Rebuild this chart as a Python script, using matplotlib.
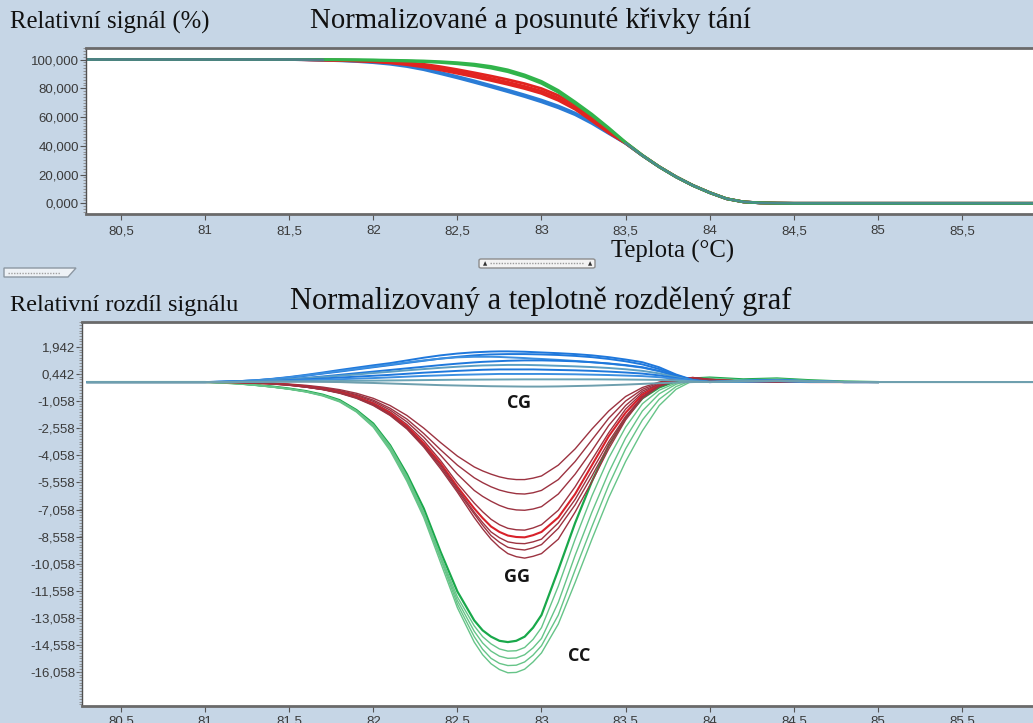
import matplotlib
matplotlib.use("Agg")
import matplotlib.pyplot as plt
from matplotlib.patches import FancyBboxPatch, Polygon
from matplotlib.ticker import MultipleLocator

# ---- data ----
# upper panel: normalised melt curves (%)
top_t = [80.3, 81.5, 81.6, 81.7, 81.8, 81.9, 82.0, 82.1, 82.2, 82.3, 82.4,
         82.5, 82.6, 82.7, 82.8, 82.9, 83.0, 83.1, 83.2, 83.3, 83.4, 83.5,
         83.6, 83.7, 83.8, 83.9, 84.0, 84.1, 84.2, 84.3, 84.4, 84.5, 86.0]
top_green = [
    [100, 100, 100, 100, 99.9, 99.8, 99.7, 99.5, 99.3, 99.0, 98.5, 97.8, 96.8, 95.2, 92.8, 89.3, 84.8,
     78.5, 70.5, 62.0, 52.5, 42.5, 33.5, 25.5, 18.5, 12.5, 7.5, 3.2, 1.0, 0.3, 0.1, 0, 0],
    [100, 100, 100, 99.9, 99.8, 99.7, 99.5, 99.2, 98.9, 98.5, 97.9, 97.0, 95.8, 94.0, 91.5, 88.0, 83.4,
     77.2, 69.4, 61.0, 51.8, 42.0, 33.2, 25.3, 18.4, 12.4, 7.4, 3.2, 1.0, 0.3, 0.1, 0, 0],
]
top_red = [
    [100, 100, 99.9, 99.8, 99.7, 99.5, 99.2, 98.7, 97.9, 96.7, 95.0, 93.0, 90.8, 88.5, 86.0, 83.2, 79.8,
     75.0, 68.5, 60.0, 51.0, 42.3, 33.4, 25.5, 18.5, 12.5, 7.5, 3.2, 1.0, 0.3, 0.1, 0, 0],
    [100, 100, 99.9, 99.7, 99.5, 99.2, 98.8, 98.1, 97.1, 95.7, 93.8, 91.6, 89.3, 86.8, 84.2, 81.3, 78.0,
     73.2, 66.8, 58.5, 49.8, 41.9, 33.3, 25.4, 18.5, 12.5, 7.5, 3.2, 1.0, 0.3, 0.1, 0, 0],
    [100, 100, 99.8, 99.6, 99.3, 98.9, 98.4, 97.6, 96.4, 94.8, 92.7, 90.4, 88.0, 85.4, 82.7, 79.8, 76.4,
     71.6, 65.4, 57.3, 49.0, 41.7, 33.2, 25.4, 18.4, 12.4, 7.4, 3.2, 1.0, 0.3, 0.1, 0, 0],
]
top_blue = [
    [100, 100, 99.9, 99.7, 99.4, 99.0, 98.3, 97.3, 95.8, 93.7, 91.0, 88.2, 85.2, 82.0, 78.8, 75.4, 71.8,
     67.7, 62.8, 56.5, 49.2, 41.8, 33.2, 25.4, 18.4, 12.4, 7.4, 3.2, 1.0, 0.3, 0.1, 0, 0],
    [100, 100, 99.8, 99.5, 99.1, 98.6, 97.8, 96.7, 95.1, 92.9, 90.1, 87.2, 84.1, 80.9, 77.6, 74.2, 70.5,
     66.4, 61.6, 55.5, 48.5, 41.6, 33.1, 25.3, 18.3, 12.3, 7.3, 3.1, 1.0, 0.3, 0.1, 0, 0],
]

# lower panel: difference plot
diff_t = [80.3, 81.0, 81.1, 81.2, 81.3, 81.4, 81.5, 81.6, 81.7, 81.8, 81.9, 82.0, 82.1,
          82.2, 82.3, 82.4, 82.5, 82.6,
          82.65, 82.7, 82.75, 82.8, 82.85, 82.9, 82.95,
          83.0, 83.1, 83.2, 83.3, 83.4, 83.5, 83.6, 83.7, 83.8, 83.9, 84.0, 84.2,
          84.4, 84.6, 84.8, 85.0, 86.0]
cc = [
    [0, 0, -0.03, -0.08, -0.16, -0.25, -0.36, -0.5, -0.7, -1.0, -1.55, -2.3, -3.5, -5.1, -7.0, -9.4, -11.6, -13.2,
     -13.75, -14.1, -14.33, -14.4, -14.33, -14.1, -13.6,
     -12.9, -10.4, -7.8, -5.5, -3.5, -2.0, -0.9, -0.3, 0.05, 0.2, 0.25, 0.15, 0.2, 0.1, 0.03, 0, 0],
    [0, 0, -0.03, -0.08, -0.16, -0.26, -0.37, -0.52, -0.72, -1.03, -1.58, -2.35, -3.55, -5.2, -7.2, -9.6, -11.9, -13.5,
     -14.1, -14.5, -14.78, -14.9, -14.88, -14.7, -14.25,
     -13.6, -11.3, -8.7, -6.3, -4.2, -2.5, -1.2, -0.45, -0.05, 0.18, 0.22, 0.12, 0.18, 0.08, 0.02, 0, 0],
    [0, 0, -0.03, -0.09, -0.17, -0.27, -0.38, -0.53, -0.74, -1.05, -1.6, -2.4, -3.65, -5.3, -7.3, -9.7, -12.1, -13.8,
     -14.45, -14.9, -15.18, -15.3, -15.28, -15.1, -14.72,
     -14.2, -12.2, -9.6, -7.2, -5.0, -3.1, -1.6, -0.65, -0.12, 0.15, 0.2, 0.1, 0.15, 0.07, 0.02, 0, 0],
    [0, 0, -0.03, -0.09, -0.17, -0.27, -0.39, -0.54, -0.75, -1.07, -1.63, -2.45, -3.7, -5.4, -7.4, -9.8, -12.3, -14.1,
     -14.8, -15.3, -15.58, -15.7, -15.68, -15.5, -15.12,
     -14.6, -12.9, -10.4, -8.0, -5.7, -3.7, -2.1, -0.95, -0.25, 0.12, 0.18, 0.08, 0.12, 0.05, 0.02, 0, 0],
    [0, 0, -0.04, -0.1, -0.18, -0.28, -0.4, -0.55, -0.77, -1.1, -1.66, -2.5, -3.8, -5.5, -7.5, -10.0, -12.5, -14.4,
     -15.1, -15.6, -15.92, -16.1, -16.08, -15.9, -15.5,
     -15.0, -13.4, -11.1, -8.7, -6.4, -4.4, -2.7, -1.3, -0.4, 0.08, 0.15, 0.06, 0.1, 0.04, 0.01, 0, 0],
]
gg = [
    [0, 0, 0, -0.01, -0.03, -0.06, -0.11, -0.18, -0.28, -0.42, -0.62, -0.9, -1.3, -1.85, -2.55, -3.35, -4.1, -4.7,
     -4.92, -5.1, -5.25, -5.35, -5.4, -5.4, -5.32,
     -5.2, -4.6, -3.7, -2.6, -1.6, -0.8, -0.3, 0.0, 0.2, 0.25, 0.15, 0.05, 0.02, 0, 0, 0, 0],
    [0, 0, 0, -0.01, -0.03, -0.07, -0.13, -0.21, -0.32, -0.47, -0.69, -1.0, -1.45, -2.05, -2.85, -3.75, -4.6, -5.3,
     -5.57, -5.8, -5.98, -6.1, -6.18, -6.2, -6.13,
     -6.0, -5.4, -4.4, -3.2, -2.0, -1.05, -0.4, -0.05, 0.18, 0.25, 0.15, 0.05, 0.02, 0, 0, 0, 0],
    [0, 0, 0, -0.01, -0.04, -0.08, -0.14, -0.23, -0.35, -0.51, -0.74, -1.07, -1.55, -2.2, -3.05, -4.05, -5.1, -6.0,
     -6.33, -6.6, -6.83, -7.0, -7.08, -7.1, -7.03,
     -6.9, -6.2, -5.1, -3.8, -2.4, -1.3, -0.5, -0.1, 0.15, 0.25, 0.15, 0.05, 0.02, 0, 0, 0, 0],
    [0, 0, 0, -0.01, -0.04, -0.08, -0.15, -0.25, -0.38, -0.55, -0.8, -1.15, -1.65, -2.35, -3.25, -4.35, -5.6, -6.7,
     -7.18, -7.6, -7.9, -8.1, -8.18, -8.2, -8.08,
     -7.9, -7.1, -5.8, -4.3, -2.8, -1.5, -0.6, -0.12, 0.15, 0.22, 0.12, 0.04, 0.02, 0, 0, 0, 0],
    [0, 0, 0, -0.02, -0.05, -0.09, -0.16, -0.26, -0.39, -0.57, -0.83, -1.2, -1.72, -2.45, -3.4, -4.5, -5.8, -7.0,
     -7.53, -8.0, -8.3, -8.5, -8.58, -8.6, -8.48,
     -8.3, -7.5, -6.2, -4.6, -3.0, -1.7, -0.7, -0.18, 0.12, 0.2, 0.1, 0.04, 0.02, 0, 0, 0, 0],
    [0, 0, 0, -0.02, -0.05, -0.09, -0.16, -0.27, -0.4, -0.59, -0.86, -1.24, -1.78, -2.52, -3.5, -4.6, -5.9, -7.2,
     -7.78, -8.3, -8.62, -8.85, -8.93, -8.95, -8.85,
     -8.7, -7.8, -6.5, -4.9, -3.3, -1.9, -0.8, -0.2, 0.1, 0.2, 0.1, 0.03, 0.01, 0, 0, 0, 0],
    [0, 0, 0, -0.02, -0.05, -0.1, -0.17, -0.28, -0.41, -0.6, -0.88, -1.27, -1.82, -2.56, -3.55, -4.7, -6.0, -7.3,
     -7.93, -8.5, -8.87, -9.15, -9.25, -9.3, -9.18,
     -9.0, -8.1, -6.8, -5.2, -3.5, -2.0, -0.85, -0.22, 0.1, 0.18, 0.1, 0.03, 0.01, 0, 0, 0, 0],
    [0, 0, 0, -0.02, -0.05, -0.1, -0.17, -0.28, -0.42, -0.62, -0.9, -1.3, -1.85, -2.6, -3.6, -4.8, -6.1, -7.5,
     -8.13, -8.7, -9.15, -9.5, -9.67, -9.75, -9.65,
     -9.5, -8.7, -7.2, -5.5, -3.7, -2.1, -0.9, -0.25, 0.08, 0.18, 0.1, 0.03, 0.01, 0, 0, 0, 0],
]
cg = [
    [0, 0, 0.02, 0.05, 0.1, 0.18, 0.28, 0.4, 0.53, 0.67, 0.8, 0.93, 1.05, 1.2, 1.35, 1.48, 1.58, 1.65,
     1.67, 1.69, 1.7, 1.7, 1.69, 1.68, 1.66,
     1.64, 1.6, 1.55, 1.48, 1.38, 1.25, 1.1, 0.82, 0.42, 0.12, 0.02, 0.08, 0.12, 0.05, 0.0, 0, 0],
    [0, 0, 0.02, 0.05, 0.09, 0.16, 0.25, 0.35, 0.47, 0.58, 0.7, 0.82, 0.94, 1.06, 1.18, 1.3, 1.4, 1.48,
     1.51, 1.53, 1.54, 1.55, 1.55, 1.55, 1.54,
     1.53, 1.5, 1.45, 1.38, 1.28, 1.15, 0.98, 0.72, 0.38, 0.1, 0.0, 0.06, 0.1, 0.04, 0, 0, 0],
    [0, 0, 0.02, 0.05, 0.1, 0.17, 0.26, 0.37, 0.49, 0.61, 0.73, 0.85, 0.97, 1.09, 1.2, 1.3, 1.37, 1.4,
     1.4, 1.4, 1.39, 1.37, 1.35, 1.33, 1.3,
     1.28, 1.23, 1.17, 1.1, 1.02, 0.92, 0.8, 0.6, 0.32, 0.08, 0.0, 0.05, 0.1, 0.04, 0, 0, 0],
    [0, 0, 0.01, 0.03, 0.06, 0.1, 0.16, 0.23, 0.31, 0.4, 0.49, 0.58, 0.67, 0.76, 0.85, 0.94, 1.02, 1.09,
     1.12, 1.14, 1.16, 1.18, 1.19, 1.2, 1.2,
     1.2, 1.18, 1.15, 1.1, 1.03, 0.94, 0.82, 0.62, 0.34, 0.1, 0.01, 0.05, 0.08, 0.03, 0, 0, 0],
    [0, 0, 0.01, 0.03, 0.06, 0.1, 0.15, 0.21, 0.28, 0.35, 0.42, 0.5, 0.57, 0.65, 0.72, 0.79, 0.85, 0.9,
     0.92, 0.93, 0.94, 0.95, 0.95, 0.95, 0.94,
     0.93, 0.9, 0.87, 0.83, 0.78, 0.71, 0.62, 0.48, 0.27, 0.08, 0.0, 0.04, 0.07, 0.03, 0, 0, 0],
    [0, 0, 0.01, 0.02, 0.04, 0.07, 0.11, 0.15, 0.2, 0.25, 0.3, 0.35, 0.4, 0.46, 0.52, 0.57, 0.62, 0.66,
     0.68, 0.69, 0.7, 0.7, 0.7, 0.7, 0.7,
     0.69, 0.67, 0.65, 0.62, 0.58, 0.53, 0.47, 0.37, 0.22, 0.07, 0.0, 0.03, 0.06, 0.02, 0, 0, 0],
    [0, 0, 0, 0.01, 0.03, 0.05, 0.07, 0.1, 0.13, 0.16, 0.19, 0.22, 0.26, 0.3, 0.34, 0.37, 0.4, 0.42,
     0.43, 0.44, 0.45, 0.45, 0.45, 0.45, 0.45,
     0.45, 0.44, 0.43, 0.41, 0.39, 0.36, 0.33, 0.27, 0.17, 0.06, 0.0, 0.03, 0.05, 0.02, 0, 0, 0],
    [0, 0, 0, 0.01, 0.01, 0.02, 0.03, 0.04, 0.05, 0.06, 0.07, 0.08, 0.09, 0.1, 0.11, 0.12, 0.13, 0.135,
     0.138, 0.14, 0.143, 0.145, 0.148, 0.15, 0.15,
     0.15, 0.15, 0.15, 0.15, 0.145, 0.14, 0.13, 0.12, 0.09, 0.04, 0.0, 0.04, 0.06, 0.03, 0.01, 0, 0],
    [0, 0, 0, 0.01, 0.02, 0.02, 0.02, 0.02, 0.01, 0.0, -0.03, -0.05, -0.08, -0.11, -0.14, -0.17, -0.19, -0.21,
     -0.22, -0.23, -0.235, -0.24, -0.245, -0.25, -0.25,
     -0.25, -0.24, -0.22, -0.2, -0.17, -0.14, -0.1, -0.06, -0.03, 0.0, 0.02, 0.05, 0.08, 0.04, 0.01, 0, 0],
]
cg_colors = ['#1f78dc', '#1f78dc', '#3c8fe0', '#1f78dc', '#5c9fc4', '#1f78dc', '#3c8fe0', '#6aa4b6', '#6e9fae']

x_ticks = [80.5, 81, 81.5, 82, 82.5, 83, 83.5, 84, 84.5, 85, 85.5]
x_labels = ['80,5', '81', '81,5', '82', '82,5', '83', '83,5', '84', '84,5', '85', '85,5']
top_yticks = [0, 20, 40, 60, 80, 100]
top_ylabels = ['0,000', '20,000', '40,000', '60,000', '80,000', '100,000']
diff_yticks = [1.942, 0.442, -1.058, -2.558, -4.058, -5.558, -7.058, -8.558, -10.058,
               -11.558, -13.058, -14.558, -16.058]
diff_ylabels = ['1,942', '0,442', '-1,058', '-2,558', '-4,058', '-5,558', '-7,058', '-8,558',
                '-10,058', '-11,558', '-13,058', '-14,558', '-16,058']

plt.rcParams['font.family'] = ['Liberation Sans', 'DejaVu Sans']
W, H = 1033, 723
fig = plt.figure(figsize=(W / 100, H / 100), dpi=100)
fig.patch.set_facecolor('#c6d6e6')


def box(l, t, r, b):
    return [l / W, 1 - b / H, (r - l) / W, (b - t) / H]


def fx(x):
    return x / W


def fy(y):
    return 1 - y / H


ax1 = fig.add_axes(box(86, 48, 1040, 214))
ax2 = fig.add_axes(box(82, 322, 1040, 706))

for ax in (ax1, ax2):
    ax.set_facecolor('white')
    ax.set_xticks(x_ticks)
    ax.set_xticklabels(x_labels)
    ax.spines['right'].set_visible(False)
    for s in ('top', 'bottom'):
        ax.spines[s].set_color('#6a6a6a')
        ax.spines[s].set_linewidth(2)
    ax.spines['left'].set_color('#505050')
    ax.spines['left'].set_linewidth(1)
    ax.tick_params(axis='both', which='major', direction='out', length=4, width=0.8,
                   color='#555555', labelsize=9.5, labelcolor='#3a3a3a')
    ax.tick_params(axis='y', which='major', pad=1)
    ax.tick_params(axis='y', which='minor', direction='out', length=2, width=0.6, color='#888888')

ax1.set_xlim(80.292, 85.964)
ax1.set_ylim(-7.44, 108.0)
ax1.set_yticks(top_yticks)
ax1.set_yticklabels(top_ylabels)
ax1.yaxis.set_minor_locator(MultipleLocator(2))
ax1.tick_params(axis='x', pad=4)

ax2.set_xlim(80.268, 85.964)
ax2.set_ylim(-17.94, 3.327)
ax2.set_yticks(diff_yticks)
ax2.set_yticklabels(diff_ylabels)
ax2.yaxis.set_minor_locator(MultipleLocator(0.15))
ax2.tick_params(axis='x', pad=3)

# upper curves
for v in top_blue:
    ax1.plot(top_t, v, color='#2a7cd6', lw=2, solid_capstyle='butt')
for v in top_red:
    ax1.plot(top_t, v, color='#e22420', lw=2, solid_capstyle='butt')
for v in top_green:
    ax1.plot(top_t, v, color='#31b44b', lw=2, solid_capstyle='butt')
ax1.plot(top_t[:4], top_red[1][:4], color='#4f7f86', lw=2)
ax1.plot(top_t[21:], top_red[1][21:], color='#4a8a8e', lw=1.6)

# lower curves
n = len(diff_t) - 1
for i, v in enumerate(cc):
    if i == 0:
        ax2.plot(diff_t[:n], v[:n], color='#19a84a', lw=1.6)
    else:
        ax2.plot(diff_t[:n], v[:n], color='#66c488', lw=1.0)
for i, v in enumerate(gg):
    if i == 4:
        ax2.plot(diff_t[:n], v[:n], color='#d8212a', lw=1.5)
    else:
        ax2.plot(diff_t[:n], v[:n], color='#9c3341', lw=1.0)
for i, v in enumerate(cg):
    if i >= 7:
        ax2.plot(diff_t, v, color=cg_colors[i], lw=1.4)
    else:
        ax2.plot(diff_t[:n], v[:n], color=cg_colors[i], lw=1.4)

lab = dict(fontsize=13, fontweight='bold', family=['Open Sans', 'DejaVu Sans'], color='#151515',
           ha='center', va='center')
ax2.text(82.866, -1.16, 'CG', **lab)
ax2.text(82.854, -10.80, 'GG', **lab)
ax2.text(83.223, -15.17, 'CC', **lab)

# headings
serif = ['Liberation Serif', 'DejaVu Serif']
fig.text(fx(10), fy(22), 'Relativní signál (%)', family=serif, fontsize=17.8, ha='left', va='center', color='#111111')
fig.text(fx(310), fy(21), 'Normalizované a posunuté křivky tání', family=serif, fontsize=20.7, ha='left', va='center', color='#111111')
fig.text(fx(611), fy(251), 'Teplota (°C)', family=serif, fontsize=17.8, ha='left', va='center', color='#111111')
fig.text(fx(10), fy(305), 'Relativní rozdíl signálu', family=serif, fontsize=17.5, ha='left', va='center', color='#111111')
fig.text(fx(290), fy(301), 'Normalizovaný a teplotně rozdělený graf', family=serif, fontsize=22, ha='left', va='center', color='#111111')

# little scroll widgets between the panels
fig.add_artist(FancyBboxPatch((fx(479), fy(268)), fx(116), 9 / H, boxstyle='round,pad=0,rounding_size=0.002',
                              transform=fig.transFigure, facecolor='#f3f3f3', edgecolor='#8c8c8c', lw=1))
fig.add_artist(plt.Line2D([fx(490), fx(584)], [fy(263), fy(263)], transform=fig.transFigure,
                          color='#9a9a9a', lw=1, ls=(0, (1, 1))))
fig.text(fx(485), fy(263.5), '▲', fontsize=4, color='#333333', ha='center', va='center', family='DejaVu Sans')
fig.text(fx(590), fy(263.5), '▲', fontsize=4, color='#333333', ha='center', va='center', family='DejaVu Sans')
fig.add_artist(Polygon([(fx(4), fy(268)), (fx(76), fy(268)), (fx(68), fy(277)), (fx(4), fy(277))],
                       closed=True, transform=fig.transFigure, facecolor='#eef2f6', edgecolor='#8c97a2', lw=1))
fig.add_artist(plt.Line2D([fx(8), fx(60)], [fy(272.5), fy(272.5)], transform=fig.transFigure,
                          color='#a0a0a0', lw=1, ls=(0, (1, 1))))

fig.savefig('out.png', dpi=100, facecolor=fig.get_facecolor())
